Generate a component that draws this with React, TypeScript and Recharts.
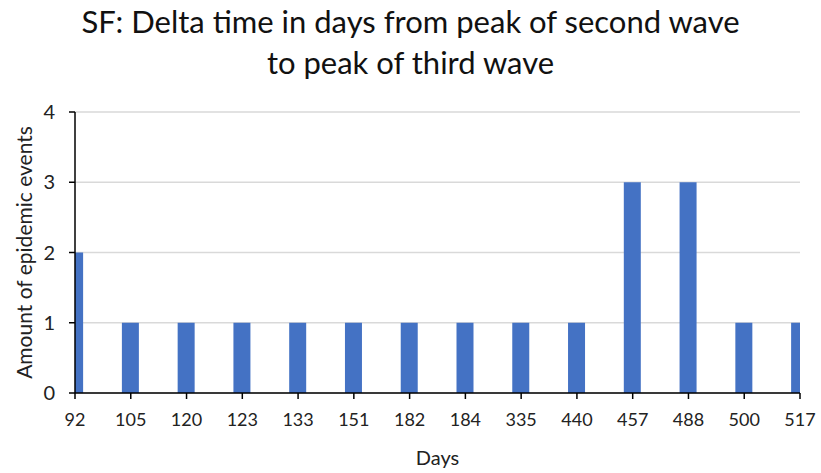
import React from "react";
import { BarChart, Bar, XAxis, YAxis, CartesianGrid, Label } from "recharts";

const dayLabels = ["92", "105", "120", "123", "133", "151", "182", "184", "335", "440", "457", "488", "500", "517"];
const eventCounts = [2, 1, 1, 1, 1, 1, 1, 1, 1, 1, 3, 3, 1, 1];
const yTicks = [0, 1, 2, 3, 4];

const data = dayLabels.map((d, i) => ({ idx: i, label: d, value: eventCounts[i] }));
const xTicks = dayLabels.map((_, i) => i);

const FONT = "Lato, 'Open Sans', sans-serif";

export default function App() {
  return (
    <div style={{ position: "absolute", left: 0, top: 0, width: 821, height: 473, background: "#fff", fontFamily: FONT }}>
      <div
        style={{
          position: "absolute",
          left: 0,
          top: 1,
          width: 821,
          textAlign: "center",
          fontSize: 31,
          lineHeight: "41px",
          color: "#111",
          fontFamily: FONT,
        }}
      >
        SF: Delta time in days from peak of second wave
        <br />
        to peak of third wave
      </div>
      <div style={{ position: "absolute", left: 0, top: 0 }}>
        <BarChart
          width={821}
          height={473}
          data={data}
          margin={{ top: 112, right: 21, bottom: 0, left: 0 }}
        >
          <CartesianGrid horizontal vertical={false} stroke="#d9d9d9" strokeWidth={1.5} />
          <XAxis
            type="number"
            dataKey="idx"
            domain={[0, 13]}
            ticks={xTicks}
            interval={0}
            allowDataOverflow
            tickFormatter={(v: number) => dayLabels[v]}
            axisLine={{ stroke: "#000", strokeWidth: 1.5 }}
            tickLine={{ stroke: "#000", strokeWidth: 1.5 }}
            tickSize={6}
            tickMargin={14}
            tick={{ fill: "#222", fontSize: 18, fontFamily: FONT }}
            height={80}
          >
            <Label value="Days" position="insideBottom" offset={8} style={{ fill: "#222", fontSize: 20, fontFamily: FONT }} />
          </XAxis>
          <YAxis
            domain={[0, 4]}
            ticks={yTicks}
            interval={0}
            width={75}
            axisLine={{ stroke: "#000", strokeWidth: 1.5 }}
            tickLine={{ stroke: "#000", strokeWidth: 1.5 }}
            tickSize={6}
            tickMargin={14}
            tick={{ fill: "#222", fontSize: 20, fontFamily: FONT }}
          >
            <Label
              value="Amount of epidemic events"
              angle={-90}
              position="center"
              dx={-13}
              style={{ fill: "#222", fontSize: 21, fontFamily: FONT, textAnchor: "middle" }}
            />
          </YAxis>
          <Bar dataKey="value" fill="#4472C4" barSize={17} isAnimationActive={false} />
        </BarChart>
      </div>
    </div>
  );
}
